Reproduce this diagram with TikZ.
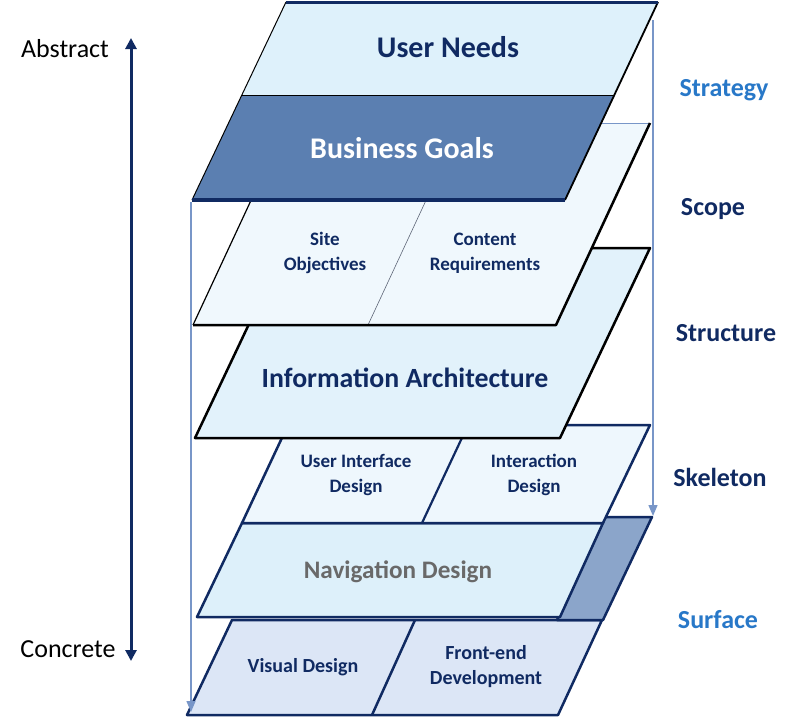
\documentclass[tikz,border=0pt]{standalone}
\usepackage{fontspec}
\setmainfont{Carlito}
\usetikzlibrary{arrows.meta}
\definecolor{navy}{RGB}{16,42,98}
\definecolor{unfill}{RGB}{222,241,251}
\definecolor{bizfill}{RGB}{91,127,177}
\definecolor{scopefill}{RGB}{240,248,253}
\definecolor{iafill}{RGB}{226,242,251}
\definecolor{skelfill}{RGB}{238,247,253}
\definecolor{navfill}{RGB}{221,240,250}
\definecolor{shadefill}{RGB}{139,165,202}
\definecolor{botfill}{RGB}{220,230,246}
\definecolor{linblue}{RGB}{120,150,200}
\definecolor{stratblue}{RGB}{40,120,200}
\definecolor{navgray}{RGB}{105,105,105}
\tikzset{
  thickedge/.style={line width=2.5pt, line join=round},
  thinedge/.style={line width=1pt},
  flowline/.style={linblue, line width=1.4pt, -{Triangle[length=11pt,width=9pt]}},
  bigarrow/.style={navy, line width=3pt, {Triangle[length=11pt,width=11pt]}-{Triangle[length=11pt,width=11pt]}},
  bigtxt/.style={font=\fontsize{30}{32}\selectfont\bfseries, text=navy},
  midtxt/.style={font=\fontsize{27.8}{30}\selectfont\bfseries, text=navy},
  smalltxt/.style={font=\fontsize{19}{25}\selectfont\bfseries, text=navy, align=center},
  sidetxt/.style={font=\fontsize{26}{28}\selectfont\bfseries, text=navy},
  endtxt/.style={font=\fontsize{26}{28}\selectfont, text=black}
}
\begin{document}
\begin{tikzpicture}[x=1pt,y=-1pt]
\useasboundingbox (0,0) rectangle (800,720);
% bottom plate
\fill[botfill] (232,620) -- (602,620) -- (558,715) -- (187,715) -- cycle;
\draw[navy, line width=2.5pt] (415,620) -- (372,715);
\draw[navy, thickedge] (232,620) -- (602,620) -- (558,715) -- (187,715) -- cycle;
% shaded surface side
\filldraw[fill=shadefill, draw=navy, thickedge] (605,517) -- (652,517) -- (603,620) -- (557,620) -- cycle;
% navigation plate
\filldraw[fill=navfill, draw=navy, thickedge] (242,523) -- (603,523) -- (560,617) -- (197,617) -- cycle;
% skeleton plate
\fill[skelfill] (288,425) -- (650,425) -- (603,523) -- (242,523) -- cycle;
\draw[navy, line width=2.2pt] (468,425) -- (422,523);
\draw[navy, thickedge] (288,425) -- (650,425) -- (603,523) -- (242,523) -- cycle;
% information architecture plate
\filldraw[fill=iafill, draw=black, thickedge] (285,248) -- (650,248) -- (560,438) -- (195,438) -- cycle;
% scope plate
\fill[scopefill] (287,123) -- (650,123) -- (556,325) -- (193,325) -- cycle;
\draw[gray!70!navy, line width=0.6pt] (462,123) -- (368,325);
\draw[linblue, line width=1pt] (287,123) -- (650,123);
\draw[black, line width=1.2pt] (287,123) -- (193,325);
\draw[black, thickedge] (650,123) -- (556,325) -- (193,325);
% top plate
\fill[unfill] (286,2) -- (658,2) -- (615,95) -- (242,95) -- cycle;
\fill[bizfill] (242,95) -- (615,95) -- (565,200) -- (192,200) -- cycle;
\draw[black, line width=1pt] (242,95) -- (615,95);
\draw[black, line width=1pt] (286,2) -- (192,200);
\draw[black, line width=1.8pt] (658,2) -- (565,200);
\draw[navy, line width=3pt] (286,2) -- (658,2);
\draw[navy, line width=3.5pt] (192,200) -- (565,200);
% flow lines
\coordinate (rtop) at (653,20);
\coordinate (rbot) at (653,516);
\coordinate (ltop) at (191,202);
\coordinate (lbot) at (191,712);
\draw[flowline] (rtop) -- (rbot);
\draw[flowline] (ltop) -- (lbot);
% big abstract/concrete arrow
\coordinate (atop) at (131,38);
\coordinate (abot) at (131,661);
\draw[bigarrow] (abot) -- (atop);
% texts
\node[bigtxt] (un) at (448,47) {User Needs};
\node[bigtxt, text=white] (bg) at (402,148) {Business Goals};
\node[smalltxt] (so) at (325,253) {Site\\Objectives};
\node[smalltxt] (cr) at (485,253) {Content\\Requirements};
\node[midtxt] (ia) at (405,378) {Information Architecture};
\node[smalltxt] (ui) at (356,475) {User Interface\\Design};
\node[smalltxt] (id) at (534,475) {Interaction\\Design};
\node[font=\fontsize{25.2}{28}\selectfont\bfseries, text=navgray] (nd) at (398,572) {Navigation Design};
\node[smalltxt, font=\fontsize{20}{25}\selectfont\bfseries] (vd) at (303,667) {Visual Design};
\node[smalltxt, font=\fontsize{20}{25}\selectfont\bfseries] (fe) at (486,667) {Front-end\\Development};
\node[endtxt] (abs) at (65,49) {Abstract};
\node[endtxt] (con) at (68,649) {Concrete};
\node[sidetxt, text=stratblue] (st) at (724,90) {Strategy};
\node[sidetxt] (sc) at (713,209) {Scope};
\node[sidetxt] (su) at (726,333) {Structure};
\node[sidetxt] (sk) at (720,477) {Skeleton};
\node[sidetxt, text=stratblue] (sf) at (718,620) {Surface};
\end{tikzpicture}
\end{document}
